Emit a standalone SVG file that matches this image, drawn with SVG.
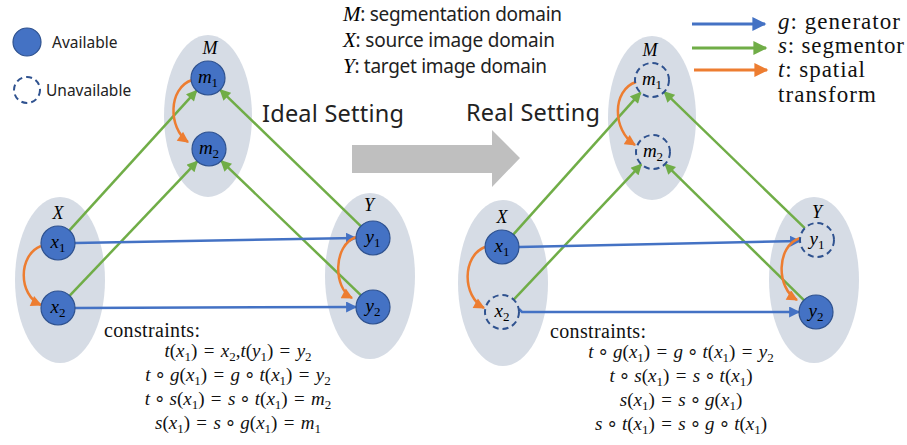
<svg xmlns="http://www.w3.org/2000/svg" width="907" height="445" viewBox="0 0 907 445">
<style>
.dom{fill:#d6dce5}
.node{fill:#4472c4;stroke:#2f528f;stroke-width:1.2}
.dash{fill:none;stroke:#2f528f;stroke-width:2;stroke-dasharray:6 4}
.nl{font-family:"Liberation Serif",serif;font-style:italic;font-size:19px;fill:#000;text-anchor:middle}
.sb{font-style:normal;font-size:13px}
.dl{font-family:"Liberation Serif",serif;font-style:italic;font-size:18px;fill:#000;text-anchor:middle}
.sans{font-family:"Noto Sans","Open Sans",sans-serif;fill:#222}
.mi{font-family:"Liberation Serif",serif;font-style:italic}
.ser{font-family:"Liberation Serif",serif;fill:#111}
.eq{font-family:"Liberation Serif","DejaVu Sans",serif;font-size:19px;fill:#111;text-anchor:middle}
.i{font-style:italic}
.g{stroke:#70ad47;stroke-width:2.5;fill:none;marker-end:url(#ag)}
.b{stroke:#4472c4;stroke-width:2.5;fill:none;marker-end:url(#ab)}
.o{stroke:#ed7d31;stroke-width:2.5;fill:none;marker-end:url(#ao)}
</style>
<defs>
<marker id="ag" viewBox="0 0 10 10" refX="9" refY="5" markerUnits="userSpaceOnUse" markerWidth="12" markerHeight="11" orient="auto"><path d="M0,0L10,5L0,10z" fill="#70ad47"/></marker>
<marker id="ab" viewBox="0 0 10 10" refX="9" refY="5" markerUnits="userSpaceOnUse" markerWidth="12" markerHeight="11" orient="auto"><path d="M0,0L10,5L0,10z" fill="#4472c4"/></marker>
<marker id="ao" viewBox="0 0 10 10" refX="9" refY="5" markerUnits="userSpaceOnUse" markerWidth="12" markerHeight="11" orient="auto"><path d="M0,0L10,5L0,10z" fill="#ed7d31"/></marker>
<marker id="Lg" viewBox="0 0 10 10" refX="9" refY="5" markerUnits="userSpaceOnUse" markerWidth="16" markerHeight="14" orient="auto"><path d="M0,0L10,5L0,10z" fill="#70ad47"/></marker>
<marker id="Lb" viewBox="0 0 10 10" refX="9" refY="5" markerUnits="userSpaceOnUse" markerWidth="16" markerHeight="14" orient="auto"><path d="M0,0L10,5L0,10z" fill="#4472c4"/></marker>
<marker id="Lo" viewBox="0 0 10 10" refX="9" refY="5" markerUnits="userSpaceOnUse" markerWidth="16" markerHeight="14" orient="auto"><path d="M0,0L10,5L0,10z" fill="#ed7d31"/></marker>
</defs>

<!-- legends -->
<g id="legend-avail">
<circle class="node" cx="27" cy="42" r="14"/>
<text class="sans" x="52" y="48" font-size="15.5">Available</text>
</g>
<g id="legend-unavail">
<circle class="dash" cx="27" cy="90" r="13" stroke-dasharray="7 5"/>
<text class="sans" x="46" y="96" font-size="15.5">Unavailable</text>
</g>
<g id="legend-domains" font-size="19">
<text class="sans" x="343" y="21" textLength="219"><tspan class="mi" fill="#000" font-size="21">M</tspan>: segmentation domain</text>
<text class="sans" x="343" y="47" textLength="212"><tspan class="mi" fill="#000" font-size="21">X</tspan>: source image domain</text>
<text class="sans" x="343" y="73" textLength="204"><tspan class="mi" fill="#000" font-size="21">Y</tspan>: target image domain</text>
</g>
<g id="legend-arrows">
<line x1="692" y1="24" x2="765" y2="24" stroke="#4472c4" stroke-width="3" marker-end="url(#Lb)"/>
<line x1="692" y1="48" x2="766" y2="48" stroke="#70ad47" stroke-width="3" marker-end="url(#Lg)"/>
<line x1="694" y1="70" x2="767" y2="70" stroke="#ed7d31" stroke-width="3" marker-end="url(#Lo)"/>
<text class="ser" x="778" y="29" font-size="23" textLength="122"><tspan class="i">g</tspan>: generator</text>
<text class="ser" x="778" y="53" font-size="23" textLength="126"><tspan class="i">s</tspan>: segmentor</text>
<text class="ser" x="778" y="77" font-size="23" textLength="87"><tspan class="i">t</tspan>: spatial</text>
<text class="ser" x="778" y="102" font-size="23" textLength="98">transform</text>
</g>

<g id="title-ideal"><text class="sans" x="262" y="122" font-size="23.5" textLength="142">Ideal Setting</text></g>
<g id="title-real"><text class="sans" x="466" y="121" font-size="23.5" textLength="134">Real Setting</text></g>
<g id="big-arrow"><polygon points="352,145 492,145 492,130 520,158 492,187 492,173 352,173" fill="#bfbfbf"/></g>

<!-- domains -->
<g id="domains">
<ellipse class="dom" cx="208" cy="116" rx="44" ry="81"/>
<ellipse class="dom" cx="60" cy="280" rx="45" ry="83"/>
<ellipse class="dom" cx="370" cy="276" rx="45" ry="83"/>
<ellipse class="dom" cx="652" cy="118" rx="44" ry="82"/>
<ellipse class="dom" cx="503" cy="283" rx="45" ry="83"/>
<ellipse class="dom" cx="814" cy="280" rx="45" ry="83"/>
<text class="dl" x="210" y="54">M</text>
<text class="dl" x="58" y="219">X</text>
<text class="dl" x="369" y="211">Y</text>
<text class="dl" x="650" y="56">M</text>
<text class="dl" x="502" y="223">X</text>
<text class="dl" x="817" y="218">Y</text>
</g>

<!-- connectors -->
<g id="connectors">
<line class="g" x1="69.4" y1="230.4" x2="196.6" y2="90.6"/>
<line class="g" x1="69.7" y1="295.7" x2="197.3" y2="161.3"/>
<line class="g" x1="360.8" y1="226.2" x2="220.2" y2="89.8"/>
<line class="g" x1="360.8" y1="295.2" x2="221.2" y2="160.8"/>
<line class="b" x1="75" y1="243" x2="356" y2="238"/>
<line class="b" x1="75" y1="308" x2="356" y2="307"/>
<path class="o" d="M192,80 C168,88 168,128 188,142"/>
<path class="o" d="M41,246 C18,255 18,295 41,305"/>
<path class="o" d="M356,237 C333,245 333,288 352,298"/>

<line class="g" x1="513.4" y1="234.4" x2="640.6" y2="92.6"/>
<line class="g" x1="513.7" y1="299.6" x2="641.3" y2="164.4"/>
<line class="g" x1="804.8" y1="228.2" x2="664.2" y2="91.8"/>
<line class="g" x1="803.9" y1="300.1" x2="665.1" y2="163.9"/>
<line class="b" x1="519" y1="247" x2="800" y2="241"/>
<polyline class="b" points="519,309 522,312 799,312"/>
<path class="o" d="M636,82 C612,90 612,130 635,145"/>
<path class="o" d="M485,247 C462,256 462,296 484,308"/>
<path class="o" d="M800,238 C776,246 776,288 797,300"/>
</g>

<!-- left nodes -->
<g id="L-m1"><circle class="node" cx="208" cy="78" r="17"/><text class="nl" x="208" y="83">m<tspan class="sb" baseline-shift="-4">1</tspan></text></g>
<g id="L-m2"><circle class="node" cx="209" cy="149" r="17"/><text class="nl" x="209" y="154">m<tspan class="sb" baseline-shift="-4">2</tspan></text></g>
<g id="L-x1"><circle class="node" cx="58" cy="243" r="17"/><text class="nl" x="58" y="248">x<tspan class="sb" baseline-shift="-4">1</tspan></text></g>
<g id="L-x2"><circle class="node" cx="58" cy="308" r="17"/><text class="nl" x="58" y="313">x<tspan class="sb" baseline-shift="-4">2</tspan></text></g>
<g id="L-y1"><circle class="node" cx="373" cy="238" r="17"/><text class="nl" x="373" y="243">y<tspan class="sb" baseline-shift="-4">1</tspan></text></g>
<g id="L-y2"><circle class="node" cx="373" cy="307" r="17"/><text class="nl" x="373" y="312">y<tspan class="sb" baseline-shift="-4">2</tspan></text></g>

<!-- right nodes -->
<g id="R-m1"><circle class="dash" cx="652" cy="80" r="17"/><text class="nl" x="652" y="85">m<tspan class="sb" baseline-shift="-4">1</tspan></text></g>
<g id="R-m2"><circle class="dash" cx="653" cy="152" r="17"/><text class="nl" x="653" y="157">m<tspan class="sb" baseline-shift="-4">2</tspan></text></g>
<g id="R-x1"><circle class="node" cx="502" cy="247" r="17"/><text class="nl" x="502" y="252">x<tspan class="sb" baseline-shift="-4">1</tspan></text></g>
<g id="R-x2"><circle class="dash" cx="502" cy="312" r="17"/><text class="nl" x="502" y="317">x<tspan class="sb" baseline-shift="-4">2</tspan></text></g>
<g id="R-y1"><circle class="dash" cx="817" cy="240" r="17"/><text class="nl" x="817" y="245">y<tspan class="sb" baseline-shift="-4">1</tspan></text></g>
<g id="R-y2"><circle class="node" cx="816" cy="312" r="17"/><text class="nl" x="816" y="317">y<tspan class="sb" baseline-shift="-4">2</tspan></text></g>

<!-- constraints -->
<g id="constraints-ideal">
<text class="ser" x="104" y="337" font-size="20" textLength="96">constraints:</text>
<text class="eq" x="238" y="357"><tspan class="i">t</tspan>(<tspan class="i">x</tspan><tspan class="sb" baseline-shift="-4">1</tspan>)&#8196;=&#8196;<tspan class="i">x</tspan><tspan class="sb" baseline-shift="-4">2</tspan>,<tspan class="i">t</tspan>(<tspan class="i">y</tspan><tspan class="sb" baseline-shift="-4">1</tspan>)&#8196;=&#8196;<tspan class="i">y</tspan><tspan class="sb" baseline-shift="-4">2</tspan></text>
<text class="eq" x="238" y="381"><tspan class="i">t</tspan>&#8201;∘&#8201;<tspan class="i">g</tspan>(<tspan class="i">x</tspan><tspan class="sb" baseline-shift="-4">1</tspan>)&#8196;=&#8196;<tspan class="i">g</tspan>&#8201;∘&#8201;<tspan class="i">t</tspan>(<tspan class="i">x</tspan><tspan class="sb" baseline-shift="-4">1</tspan>)&#8196;=&#8196;<tspan class="i">y</tspan><tspan class="sb" baseline-shift="-4">2</tspan></text>
<text class="eq" x="238" y="405"><tspan class="i">t</tspan>&#8201;∘&#8201;<tspan class="i">s</tspan>(<tspan class="i">x</tspan><tspan class="sb" baseline-shift="-4">1</tspan>)&#8196;=&#8196;<tspan class="i">s</tspan>&#8201;∘&#8201;<tspan class="i">t</tspan>(<tspan class="i">x</tspan><tspan class="sb" baseline-shift="-4">1</tspan>)&#8196;=&#8196;<tspan class="i">m</tspan><tspan class="sb" baseline-shift="-4">2</tspan></text>
<text class="eq" x="238" y="429"><tspan class="i">s</tspan>(<tspan class="i">x</tspan><tspan class="sb" baseline-shift="-4">1</tspan>)&#8196;=&#8196;<tspan class="i">s</tspan>&#8201;∘&#8201;<tspan class="i">g</tspan>(<tspan class="i">x</tspan><tspan class="sb" baseline-shift="-4">1</tspan>)&#8196;=&#8196;<tspan class="i">m</tspan><tspan class="sb" baseline-shift="-4">1</tspan></text>
</g>
<g id="constraints-real">
<text class="ser" x="550" y="338" font-size="20" textLength="96">constraints:</text>
<text class="eq" x="681" y="358"><tspan class="i">t</tspan>&#8201;∘&#8201;<tspan class="i">g</tspan>(<tspan class="i">x</tspan><tspan class="sb" baseline-shift="-4">1</tspan>)&#8196;=&#8196;<tspan class="i">g</tspan>&#8201;∘&#8201;<tspan class="i">t</tspan>(<tspan class="i">x</tspan><tspan class="sb" baseline-shift="-4">1</tspan>)&#8196;=&#8196;<tspan class="i">y</tspan><tspan class="sb" baseline-shift="-4">2</tspan></text>
<text class="eq" x="681" y="382"><tspan class="i">t</tspan>&#8201;∘&#8201;<tspan class="i">s</tspan>(<tspan class="i">x</tspan><tspan class="sb" baseline-shift="-4">1</tspan>)&#8196;=&#8196;<tspan class="i">s</tspan>&#8201;∘&#8201;<tspan class="i">t</tspan>(<tspan class="i">x</tspan><tspan class="sb" baseline-shift="-4">1</tspan>)</text>
<text class="eq" x="681" y="406"><tspan class="i">s</tspan>(<tspan class="i">x</tspan><tspan class="sb" baseline-shift="-4">1</tspan>)&#8196;=&#8196;<tspan class="i">s</tspan>&#8201;∘&#8201;<tspan class="i">g</tspan>(<tspan class="i">x</tspan><tspan class="sb" baseline-shift="-4">1</tspan>)</text>
<text class="eq" x="681" y="430"><tspan class="i">s</tspan>&#8201;∘&#8201;<tspan class="i">t</tspan>(<tspan class="i">x</tspan><tspan class="sb" baseline-shift="-4">1</tspan>)&#8196;=&#8196;<tspan class="i">s</tspan>&#8201;∘&#8201;<tspan class="i">g</tspan>&#8201;∘&#8201;<tspan class="i">t</tspan>(<tspan class="i">x</tspan><tspan class="sb" baseline-shift="-4">1</tspan>)</text>
</g>
</svg>
